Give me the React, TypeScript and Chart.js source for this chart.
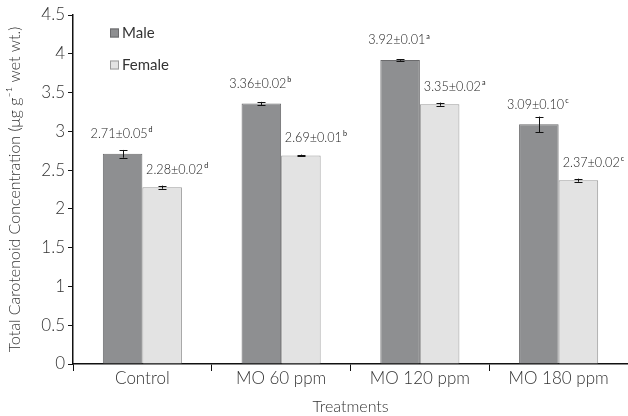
import React, { useEffect, useRef } from "react";
import { Chart, registerables } from "chart.js";

Chart.register(...registerables);

const categories = ["Control", "MO 60 ppm", "MO 120 ppm", "MO 180 ppm"];
const maleValues = [2.71, 3.36, 3.92, 3.09];
const maleErrors = [0.05, 0.02, 0.01, 0.1];
const maleLetters = ["d", "b", "a", "c"];
const femaleValues = [2.28, 2.69, 3.35, 2.37];
const femaleErrors = [0.02, 0.01, 0.02, 0.02];
const femaleLetters = ["d", "b", "a", "c"];
const yTicks = [0, 0.5, 1, 1.5, 2, 2.5, 3, 3.5, 4, 4.5];

const errors = [maleErrors, femaleErrors];
const letters = [maleLetters, femaleLetters];

const AXIS_FONT = "Lato, 'Open Sans', sans-serif";
const LABEL_FONT = "Lato, 'Liberation Sans', sans-serif";

const errorBarPlugin = {
  id: "errorBars",
  afterDatasetsDraw(chart: any) {
    const ctx = chart.ctx;
    const yScale = chart.scales.y;
    ctx.save();
    ctx.strokeStyle = "#111";
    ctx.lineWidth = 1;
    chart.data.datasets.forEach((ds: any, di: number) => {
      const meta = chart.getDatasetMeta(di);
      meta.data.forEach((el: any, i: number) => {
        const v = ds.data[i];
        const e = errors[di][i];
        const x = Math.round(el.x) + 0.5;
        const yT = yScale.getPixelForValue(v + e);
        const yB = yScale.getPixelForValue(v - e);
        ctx.beginPath();
        ctx.moveTo(x, yT);
        ctx.lineTo(x, yB);
        ctx.moveTo(x - 4, Math.round(yT) + 0.5);
        ctx.lineTo(x + 4, Math.round(yT) + 0.5);
        ctx.moveTo(x - 4, Math.round(yB) + 0.5);
        ctx.lineTo(x + 4, Math.round(yB) + 0.5);
        ctx.stroke();
      });
    });
    ctx.restore();
  },
};

const valueLabelPlugin = {
  id: "valueLabels",
  afterDatasetsDraw(chart: any) {
    const ctx = chart.ctx;
    const offsets = [
      { dx: -1, dy: -20 },
      { dx: 15, dy: -18 },
    ];
    const sx = 0.9;
    ctx.save();
    ctx.fillStyle = "#222";
    ctx.textBaseline = "middle";
    chart.data.datasets.forEach((ds: any, di: number) => {
      const meta = chart.getDatasetMeta(di);
      meta.data.forEach((el: any, i: number) => {
        const v = ds.data[i];
        const main = `${v.toFixed(2)}±${errors[di][i].toFixed(2)}`;
        const sup = letters[di][i];
        ctx.font = `300 14px ${LABEL_FONT}`;
        const wMain = ctx.measureText(main).width * sx;
        ctx.font = `8px ${LABEL_FONT}`;
        const wSup = ctx.measureText(sup).width * sx;
        const total = wMain + wSup + 1;
        const cx = el.x + offsets[di].dx;
        const cy = el.y + offsets[di].dy;
        const x0 = cx - total / 2;
        ctx.save();
        ctx.translate(x0, cy);
        ctx.scale(sx, 1);
        ctx.textAlign = "left";
        ctx.font = `300 14px ${LABEL_FONT}`;
        ctx.fillText(main, 0, 0);
        ctx.font = `8px ${LABEL_FONT}`;
        ctx.fillText(sup, (wMain + 1) / sx, -4);
        ctx.restore();
      });
    });
    ctx.restore();
  },
};

const legendPlugin = {
  id: "customLegend",
  afterDraw(chart: any) {
    const ctx = chart.ctx;
    const area = chart.chartArea;
    ctx.save();
    ctx.font = `15px ${AXIS_FONT}`;
    ctx.textBaseline = "middle";
    ctx.textAlign = "left";
    chart.data.datasets.forEach((ds: any, di: number) => {
      const y = area.top + 18 + di * 32;
      const x = area.left + 37;
      ctx.fillStyle = ds.backgroundColor;
      ctx.fillRect(x, y - 4.5, 9, 9);
      ctx.strokeStyle = ds.borderColor;
      ctx.lineWidth = 1;
      ctx.strokeRect(x + 0.5, y - 4, 8, 8);
      ctx.fillStyle = "#333";
      ctx.fillText(ds.label, x + 12, y);
    });
    ctx.restore();
  },
};

export default function App() {
  const ref = useRef<HTMLCanvasElement>(null);
  useEffect(() => {
    if (!ref.current) return;
    const chart = new Chart(ref.current, {
      type: "bar",
      data: {
        labels: categories,
        datasets: [
          {
            label: "Male",
            data: maleValues,
            backgroundColor: "#8e8f91",
            borderColor: "#6b6b6d",
            borderWidth: 1,
            categoryPercentage: 0.57,
            barPercentage: 1,
          },
          {
            label: "Female",
            data: femaleValues,
            backgroundColor: "#e3e3e3",
            borderColor: "#9a9a9a",
            borderWidth: 1,
            categoryPercentage: 0.57,
            barPercentage: 1,
          },
        ],
      },
      options: {
        animation: false,
        responsive: false,
        maintainAspectRatio: false,
        layout: { padding: { top: 15, right: 0, left: 0, bottom: 0 } },
        plugins: {
          legend: { display: false },
          tooltip: { enabled: false },
        },
        scales: {
          x: {
            grid: {
              offset: true,
              drawOnChartArea: false,
              drawTicks: true,
              tickLength: 7,
              color: "#111",
            },
            border: { color: "#111", width: 1.5 },
            ticks: {
              color: "#333",
              font: { family: AXIS_FONT, size: 17, weight: "300" },
              padding: -3,
            },
            title: {
              display: true,
              text: "Treatments",
              color: "#333",
              font: { family: AXIS_FONT, size: 16, weight: "300" },
              padding: { top: 6, bottom: 0 },
            },
            afterFit(scale: any) {
              scale.height = 52;
            },
          },
          y: {
            min: 0,
            max: 4.5,
            afterBuildTicks(scale: any) {
              scale.ticks = yTicks.map((v) => ({ value: v }));
            },
            grid: {
              drawOnChartArea: false,
              drawTicks: true,
              tickLength: 5,
              color: "#111",
            },
            border: { color: "#111", width: 1.5 },
            ticks: {
              color: "#333",
              font: { family: AXIS_FONT, size: 17, weight: "300" },
              padding: 3,
              callback: (v: any) => String(v),
            },
            title: {
              display: true,
              text: "Total Carotenoid Concentration (μg g⁻¹ wet wt.)",
              color: "#333",
              font: { family: AXIS_FONT, size: 16, weight: "300" },
              padding: { top: 5, bottom: 4 },
            },
            afterFit(scale: any) {
              scale.width = 73;
            },
          },
        },
      },
      plugins: [errorBarPlugin, valueLabelPlugin, legendPlugin],
    });
    return () => chart.destroy();
  }, []);
  return (
    <div style={{ position: "fixed", left: 0, top: 0, width: 628, height: 416, background: "#fff" }}>
      <canvas ref={ref} width={628} height={416} style={{ width: 628, height: 416 }} />
    </div>
  );
}
